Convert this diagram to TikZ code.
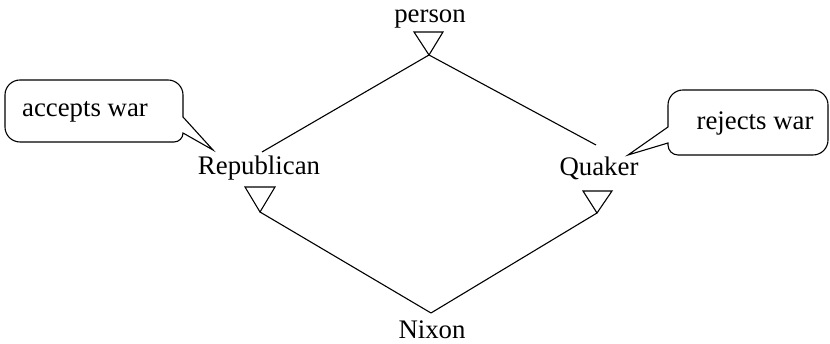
\documentclass[tikz,border=0pt]{standalone}
\usepackage{fontspec}
\setmainfont{Liberation Serif}
\begin{document}
\begin{tikzpicture}[x=1pt,y=1pt,
  lbl/.style={inner sep=0pt,anchor=base,font=\fontsize{26.8}{30}\selectfont},
  ln/.style={line width=1.1pt,line join=miter},
  tri/.style={line width=1.1pt,line join=miter}]
\useasboundingbox (0,0) rectangle (830,344);
% labels
\node[lbl] (person) at (430,321) {person};
\node[lbl] (rep) at (259,169) {Republican};
\node[lbl] (quak) at (599,168) {Quaker};
\node[lbl] (nixon) at (432,5) {Nixon};
\node[lbl] (acc) at (85,227) {accepts war};
\node[lbl] (rej) at (755,214) {rejects war};
% triangle apexes and line ends
\coordinate (pA) at (429,289);
\coordinate (rA) at (260,132);
\coordinate (qA) at (597,131);
\coordinate (repTop) at (262,192);
\coordinate (quakTop) at (596,199);
\coordinate (nixTop) at (431,31);
% triangles
\draw[tri] (414,312) -- (443,312) -- (pA) -- cycle;
\draw[tri] (245,157) -- (275,157) -- (rA) -- cycle;
\draw[tri] (583,153) -- (612,153) -- (qA) -- cycle;
% connectors
\draw[ln] (pA) -- (repTop);
\draw[ln] (pA) -- (quakTop);
\draw[ln] (rA) -- (nixTop);
\draw[ln] (qA) -- (nixTop);
% callouts
\draw[ln] (20,264) -- (168,264) arc[start angle=90,end angle=0,radius=15]
  -- (183,227) -- (213,194) -- (183,211) arc[start angle=0,end angle=-90,radius=9]
  -- (20,202) arc[start angle=270,end angle=180,radius=15]
  -- (5,249) arc[start angle=180,end angle=90,radius=15] -- cycle;
\draw[ln] (683,254) -- (813,254) arc[start angle=90,end angle=0,radius=15]
  -- (828,204) arc[start angle=0,end angle=-90,radius=15]
  -- (678,189) arc[start angle=270,end angle=180,radius=10]
  -- (668,201) -- (628,189) -- (668,217)
  -- (668,239) arc[start angle=180,end angle=90,radius=15] -- cycle;
\end{tikzpicture}
\end{document}
